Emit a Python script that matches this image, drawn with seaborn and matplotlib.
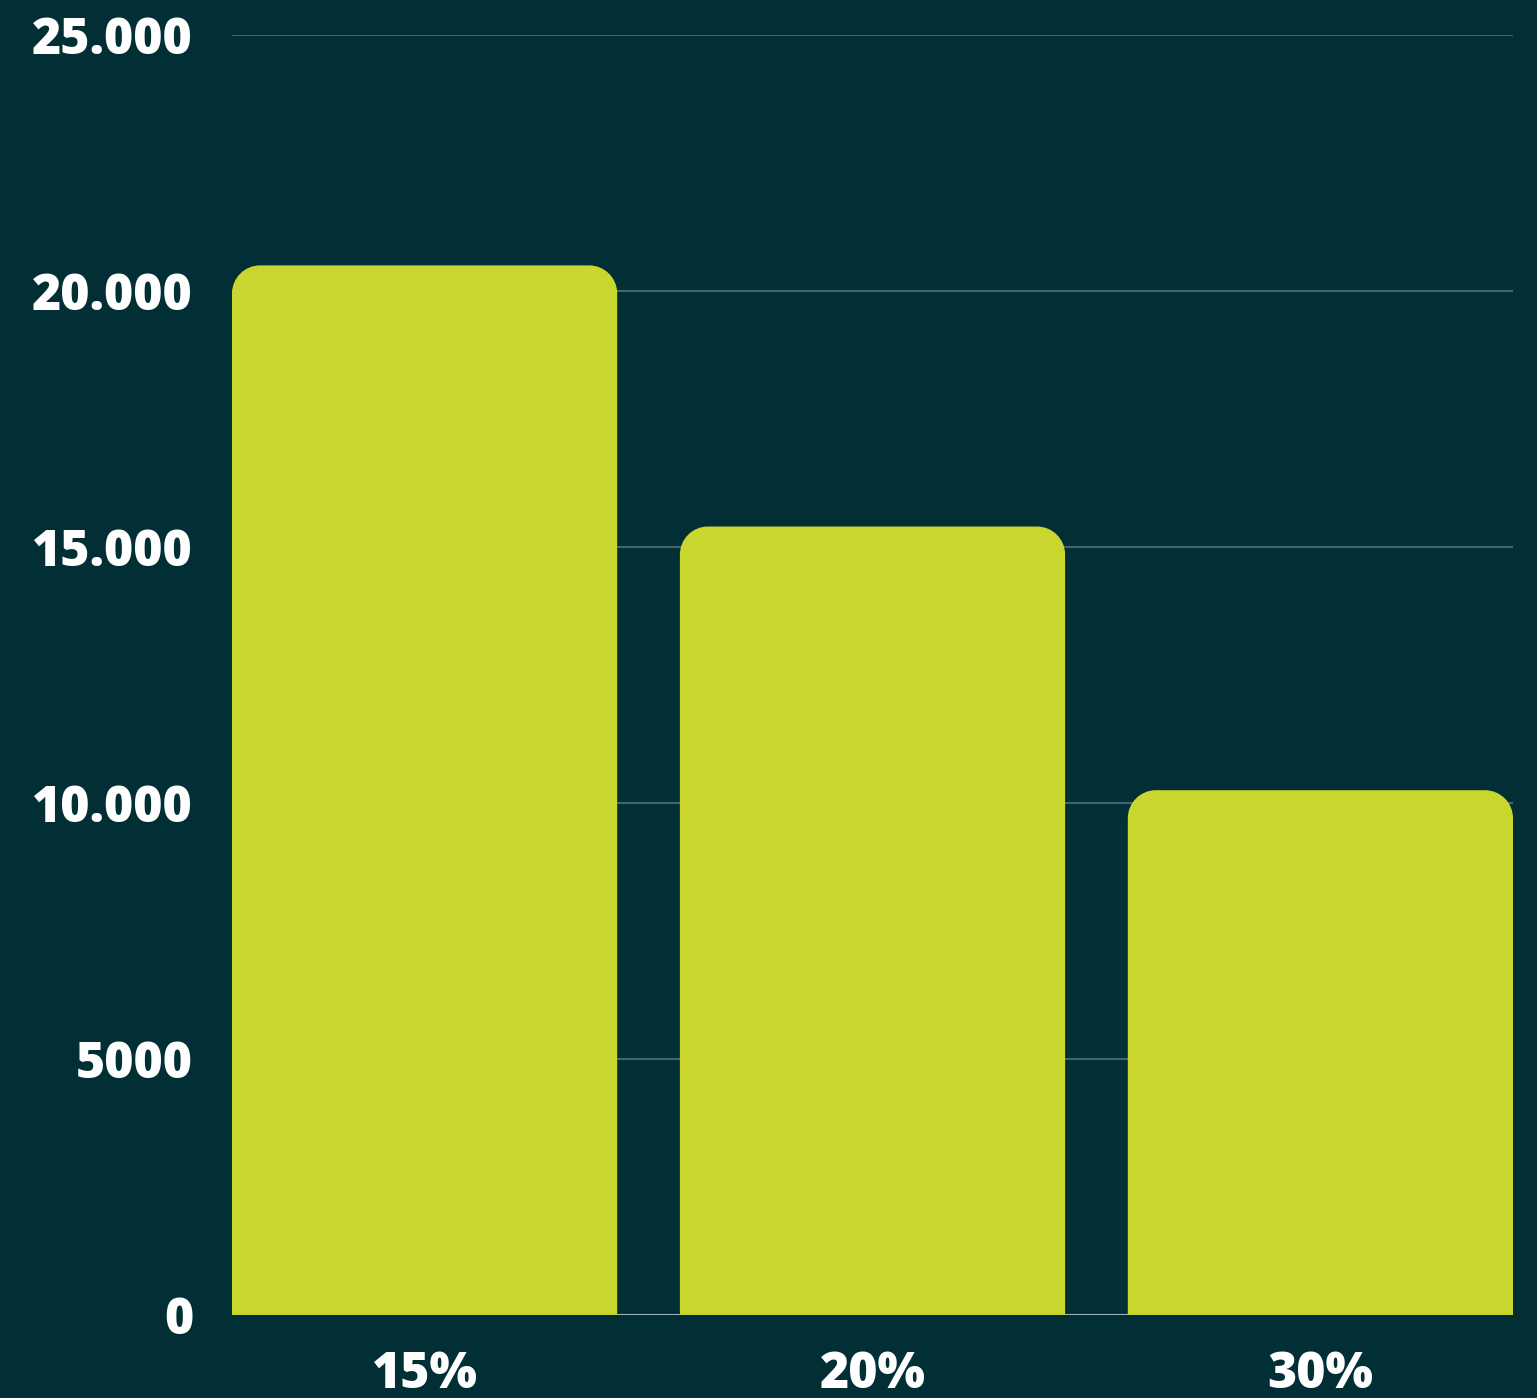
import matplotlib
matplotlib.use("Agg")
import matplotlib.pyplot as plt
import seaborn as sns
import pandas as pd
from matplotlib.path import Path
from matplotlib.patches import PathPatch

categories = ["15%", "20%", "30%"]
values = [20500, 15400, 10250]
yticks = [0, 5000, 10000, 15000, 20000, 25000]
ytick_labels = ["0", "5000", "10.000", "15.000", "20.000", "25.000"]

BG = "#022e35"
BAR = "#c9d62f"
GRID = "#45676c"
BASE = "#9fb3b6"

sns.set_theme(style="dark")
plt.rcParams["font.family"] = ["Open Sans", "DejaVu Sans"]

fig = plt.figure(figsize=(15.37, 13.98), dpi=100, facecolor=BG)
ax = fig.add_axes([232/1537, 83/1398, (1513-232)/1537, (1363-83)/1398])
ax.set_facecolor(BG)

df = pd.DataFrame({"cat": categories, "val": values})
sns.barplot(data=df, x="cat", y="val", color=BAR, width=0.86, saturation=1, ax=ax, zorder=2)

ax.set_xlim(-0.43, 2.43)
ax.set_ylim(0, 25000)
ax.set_yticks(yticks)
ax.set_yticklabels(ytick_labels)
ax.set_xlabel("")
ax.set_ylabel("")
for s in ax.spines.values():
    s.set_visible(False)
ax.grid(False)
for t in yticks[1:]:
    ax.axhline(t, color=GRID, lw=1.5, zorder=1)
ax.axhline(0, color=BASE, lw=1.5, zorder=1)

ax.tick_params(axis="both", length=0, labelsize=36, labelcolor="white")
ax.tick_params(axis="y", pad=28)
ax.tick_params(axis="x", pad=25)
for lab in ax.get_xticklabels() + ax.get_yticklabels():
    lab.set_fontweight(800)

# round the top corners of the bars
fig.canvas.draw()
x0d, x1d = ax.get_xlim()
y0d, y1d = ax.get_ylim()
bbox = ax.get_window_extent()
dx = (x1d - x0d) / bbox.width
dy = (y1d - y0d) / bbox.height
r = 28
k = 0.5523
for p in list(ax.patches):
    x, y, w, h = p.get_x(), p.get_y(), p.get_width(), p.get_height()
    rx, ry = r * dx, r * dy
    top = y + h
    verts = [
        (x, y), (x, top - ry),
        (x, top - ry + k * ry), (x + rx - k * rx, top), (x + rx, top),
        (x + w - rx, top),
        (x + w - rx + k * rx, top), (x + w, top - ry + k * ry), (x + w, top - ry),
        (x + w, y), (x, y),
    ]
    codes = [Path.MOVETO, Path.LINETO,
             Path.CURVE4, Path.CURVE4, Path.CURVE4,
             Path.LINETO,
             Path.CURVE4, Path.CURVE4, Path.CURVE4,
             Path.LINETO, Path.CLOSEPOLY]
    ax.add_patch(PathPatch(Path(verts, codes), facecolor=BAR, edgecolor="none", zorder=2))
    p.remove()

fig.savefig("out.png", dpi=100, facecolor=BG)
